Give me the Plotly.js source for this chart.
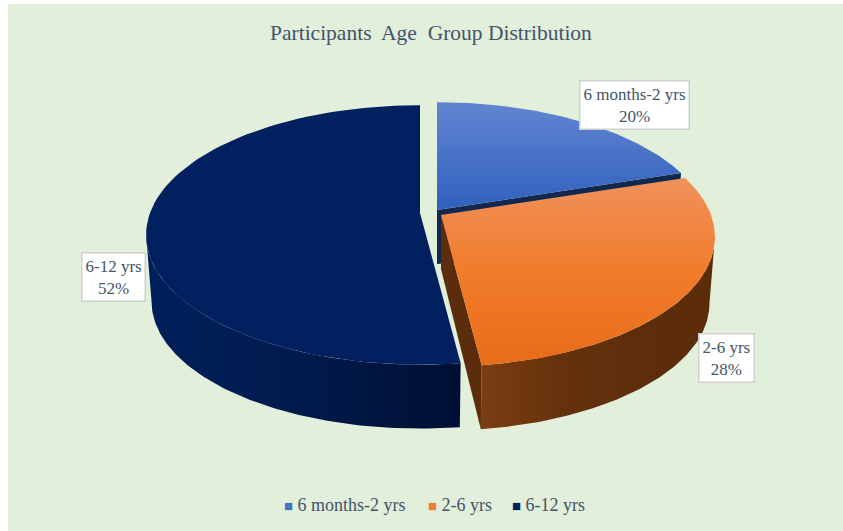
<!DOCTYPE html>
<html><head><meta charset="utf-8">
<script src="https://cdn.plot.ly/plotly-3.0.1.min.js"></script>
<style>html,body{margin:0;padding:0;background:#fff}#c{width:843px;height:531px}</style>
</head><body><div id="c"></div>
<script>
const categories = ['6 months-2 yrs', '2-6 yrs', '6-12 yrs'];
const percents = [20, 28, 52];
const topColors = [['#3060bd','#6285d2'], ['#e86c18','#f17c2b','#f0915c'], ['#002060','#002060']];
const wallStops = [['#12284f','#12284f'], ['#7c3d11','#66320d','#5e2e0c','#5c2d0b'], ['#00205c','#001a4c','#000f33']];
const swatchColors = ['#4472c4', '#ed7d31', '#002060'];
const centers = [[437,210],[441,215],[420,213]];
const labelBoxes = [[634.5,105],[726,358],[113.5,277]];
const legendX = [344.5, 459.5, 548.5];

const A = 270, B = 126, K = 0.169, DEPTH = 67, INNER_DEPTH = 54, SHRINK = 0.98;
function proj(c, t, s, dy) {
  const u = Math.sin(t), v = Math.cos(t), w = 1 + K * v;
  return [c[0] + s * A * u / w, c[1] + dy + s * B * v * -1 / w];
}
function arc(c, t0, t1, s, dy) {
  const pts = [], n = 90;
  for (let i = 0; i <= n; i++) pts.push(proj(c, t0 + (t1 - t0) * i / n, s, dy));
  return pts;
}
function poly(pts, color, stops, kind, name) {
  const o = {type:'scatter', mode:'lines', x:pts.map(p=>p[0]), y:pts.map(p=>p[1]), fill:'toself',
    line:{width:0, color:color}, fillcolor:color, hoverinfo:'name', name:name, showlegend:false};
  if (stops) o.fillgradient = {type:kind, colorscale:stops.map((col,i)=>[i/(stops.length-1),col])};
  return o;
}
const total = percents.reduce((a,b)=>a+b,0);
const angles = [0]; percents.forEach((p,i)=>angles.push(angles[i] + 2*Math.PI*p/total));
// the visible part of the rim runs between the two points where the projected disc is widest
const rimRight = Math.acos(-K), rimLeft = 2*Math.PI - rimRight;

const traces = [];
function wall(i, t0, t1) {
  const c = centers[i];
  const a0 = Math.max(t0, rimRight), a1 = Math.min(t1, rimLeft);
  const pts = arc(c,a0,a1,1,0).concat(arc(c,a1,a0,SHRINK,DEPTH));
  traces.push(poly(pts, wallStops[i][0], wallStops[i], 'horizontal', categories[i]));
}
function face(i, t, color) {
  const c = centers[i];
  const pts = [[c[0],c[1]], proj(c,t,1,0), proj(c,t,SHRINK,DEPTH), [c[0],c[1]+INNER_DEPTH]];
  traces.push(poly(pts, color, null, null, categories[i]));
}
function topFace(i) {
  const c = centers[i];
  const pts = [[c[0],c[1]]].concat(arc(c,angles[i],angles[i+1],1,0));
  traces.push(poly(pts, topColors[i][0], topColors[i], 'vertical', categories[i]));
}
// back to front: blue, navy, orange
face(0, angles[1], '#12284f'); topFace(0);
wall(2, angles[2], angles[3]); topFace(2);
wall(1, angles[1], angles[2]); face(1, angles[2], '#5c2d0c'); topFace(1);

const serif = '"Liberation Serif", serif', ink = '#44546a';
const annotations = [{xref:'x',yref:'y',x:430.5,y:33,text:'Participants  Age  Group Distribution',showarrow:false,font:{family:serif,size:21.5,color:ink}}];
categories.forEach((cat,i)=>{
  annotations.push({xref:'x',yref:'y',x:labelBoxes[i][0],y:labelBoxes[i][1],showarrow:false,align:'center',
    text:cat+'<br>'+percents[i]+'%',bgcolor:'#fff',bordercolor:'#cfcfcf',borderwidth:1.5,borderpad:3,
    font:{family:serif,size:17,color:ink}});
  annotations.push({xref:'x',yref:'y',x:legendX[i],y:505,showarrow:false,
    text:'<span style="color:'+swatchColors[i]+';font-size:15px">■</span> '+cat,
    font:{family:serif,size:18,color:ink}});
});
const axis = {visible:false, fixedrange:true, showgrid:false, zeroline:false};
Plotly.newPlot('c', traces, {
  width:843, height:531, margin:{l:8,r:0,t:4,b:0}, paper_bgcolor:'#fff', plot_bgcolor:'#e2efda',
  showlegend:false, annotations:annotations,
  xaxis:Object.assign({range:[8,843]},axis), yaxis:Object.assign({range:[531,4]},axis)
}, {displayModeBar:false});
</script></body></html>
